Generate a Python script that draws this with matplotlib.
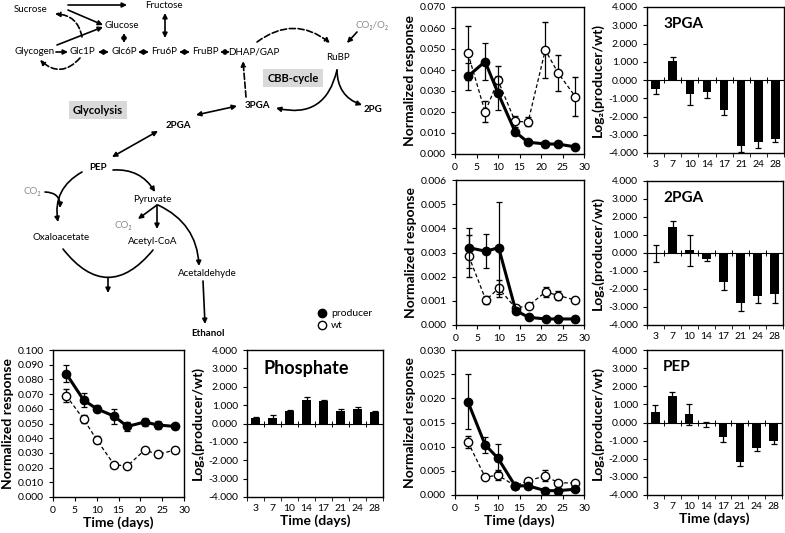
import matplotlib
matplotlib.use("Agg")
import matplotlib.pyplot as plt
from matplotlib.lines import Line2D
import numpy as np

plt.rcParams['font.family'] = ['Lato', 'DejaVu Sans']

# ---- data -------------------------------------------------------------
days = [3, 7, 10, 14, 17, 21, 24, 28]
day_labels = ["3", "7", "10", "14", "17", "21", "24", "28"]

phos_prod = [0.084, 0.066, 0.060, 0.055, 0.048, 0.051, 0.049, 0.048]
phos_prod_err = [0.0055, 0.0045, 0.0025, 0.005, 0.003, 0.003, 0.0025, 0.0015]
phos_wt = [0.069, 0.053, 0.039, 0.022, 0.021, 0.032, 0.029, 0.032]
phos_wt_err = [0.0045, 0.0025, 0.0025, 0.001, 0.001, 0.001, 0.0015, 0.002]
phos_log2 = [0.30, 0.32, 0.68, 1.28, 1.20, 0.68, 0.80, 0.62]
phos_log2_err = [0.08, 0.13, 0.06, 0.16, 0.08, 0.10, 0.10, 0.05]

pga3_prod = [0.037, 0.044, 0.029, 0.0105, 0.0056, 0.0048, 0.0047, 0.0034]
pga3_prod_err = [0.0065, 0.009, 0.008, 0.0015, 0.0008, 0.0005, 0.0005, 0.0003]
pga3_wt = [0.048, 0.020, 0.035, 0.0155, 0.0153, 0.0495, 0.0385, 0.0273]
pga3_wt_err = [0.013, 0.005, 0.007, 0.0025, 0.0022, 0.0135, 0.0085, 0.0093]
pga3_log2 = [-0.50, 1.02, -0.75, -0.68, -1.65, -3.62, -3.40, -3.25]
pga3_log2_err = [0.27, 0.25, 0.63, 0.28, 0.25, 0.30, 0.33, 0.15]

pga2_prod = [0.0032, 0.00305, 0.0032, 0.0006, 0.00032, 0.00025, 0.00025, 0.00025]
pga2_prod_err = [0.00083, 0.0007, 0.0019, 0.00005, 0.00003, 0.00002, 0.00002, 0.00002]
pga2_wt = [0.00285, 0.00103, 0.00152, 0.0007, 0.0008, 0.00137, 0.00122, 0.00103]
pga2_wt_err = [0.00088, 0.00015, 0.00035, 0.0001, 0.0001, 0.0002, 0.0002, 0.00012]
pga2_log2 = [-0.03, 1.45, 0.15, -0.32, -1.60, -2.75, -2.40, -2.25]
pga2_log2_err = [0.45, 0.32, 0.85, 0.15, 0.45, 0.48, 0.38, 0.50]

pep_prod = [0.0193, 0.0104, 0.0076, 0.0019, 0.0019, 0.0009, 0.0009, 0.0012]
pep_prod_err = [0.0057, 0.0017, 0.0029, 0.0002, 0.0003, 0.0001, 0.0001, 0.0002]
pep_wt = [0.011, 0.0037, 0.0041, 0.0019, 0.0029, 0.0040, 0.0025, 0.0025]
pep_wt_err = [0.0012, 0.0003, 0.001, 0.0002, 0.0003, 0.0011, 0.0005, 0.0003]
pep_log2 = [0.60, 1.45, 0.45, -0.10, -0.80, -2.20, -1.40, -1.00]
pep_log2_err = [0.38, 0.22, 0.58, 0.15, 0.28, 0.18, 0.15, 0.20]

W, H = 785, 533
fig = plt.figure(figsize=(W / 100, H / 100), dpi=100)


def box(l, t, r, b):
    # pixel box -> figure fraction
    return [l / W, 1 - b / H, (r - l) / W, (b - t) / H]


# ---- pathway diagram (pixel coordinates) ------------------------------
ax_d = fig.add_axes([0, 0, 1, 1])
ax_d.set_xlim(0, W)
ax_d.set_ylim(H, 0)
ax_d.axis("off")


def arrow(p0, p1, rad=0.0, style="-|>", ls="-"):
    ax_d.annotate("", xy=p1, xytext=p0,
                  arrowprops=dict(arrowstyle=style, connectionstyle=f"arc3,rad={rad}",
                                  color="black", lw=1.2, linestyle=ls,
                                  shrinkA=0, shrinkB=0, mutation_scale=7))


def label(x, y, s, bold=False, color="black", size=7):
    ax_d.text(x, y, s, ha="center", va="center", fontsize=size, color=color,
              fontweight="bold" if bold else "normal")


label(31, 9, "Sucrose")
label(164, 5, "Fructose")
label(122, 25, "Glucose")
label(35, 52, "Glycogen")
label(82, 52, "Glc1P")
label(124, 52, "Glc6P")
label(164, 52, "Fru6P")
label(205, 52, "FruBP")
label(254, 52, "DHAP/GAP")
label(338, 57, "RuBP")
label(372, 25, "CO₂/O₂", color="#8c8c8c")
label(257, 106, "3PGA", bold=True)
label(373, 110, "2PG", bold=True)
label(178, 125, "2PGA", bold=True)
label(98, 168, "PEP", bold=True)
label(32, 191, "CO₂", color="#8c8c8c")
label(152, 199, "Pyruvate")
label(123, 225, "CO₂", color="#8c8c8c")
label(61, 237, "Oxaloacetate")
label(153, 241, "Acetyl-CoA")
label(207, 274, "Acetaldehyde")
label(208, 333, "Ethanol", bold=True)
ax_d.text(293, 78, "CBB-cycle", ha="center", va="center", fontsize=8, fontweight="bold",
          bbox=dict(boxstyle="square,pad=0.35", fc="#d9d9d9", ec="none"))
ax_d.text(98, 110, "Glycolysis", ha="center", va="center", fontsize=8, fontweight="bold",
          bbox=dict(boxstyle="square,pad=0.35", fc="#d9d9d9", ec="none"))

arrow((68, 5), (127, 5))
arrow((68, 10), (103, 25))
arrow((57, 45), (103, 27))
arrow((56, 52), (68, 52))
arrow((82, 37), (55, 14), rad=0.4, ls="--")
arrow((80, 58), (40, 60), rad=-0.5, ls="--")
for a, b in [((98, 52), (109, 52)), ((138, 52), (149, 52)), ((179, 52), (190, 52)),
             ((220, 52), (230, 52)), ((124, 33), (124, 43)), ((165, 13), (165, 38))]:
    arrow(a, b, style="<|-|>")
arrow((257, 42), (330, 43), rad=-0.38, ls="--")
arrow((357, 32), (347, 43))
arrow((337, 70), (276, 108), rad=-0.5)
arrow((337, 70), (362, 105), rad=0.35)
arrow((246, 97), (243, 61), ls="--")
arrow((196, 115), (237, 106), style="<|-|>")
arrow((158, 131), (112, 157), style="<|-|>")
arrow((113, 170), (155, 192), rad=-0.3)
arrow((82, 172), (58, 222), rad=0.35)
arrow((45, 192), (60, 208), rad=-0.5)
arrow((157, 205), (138, 219))
arrow((157, 205), (157, 229))
arrow((158, 205), (199, 266), rad=-0.3)
arrow((203, 281), (205, 324))
arrow((63, 249), (153, 250), rad=0.62, style="-")
arrow((108, 278), (108, 293))

# legend
handles = [Line2D([], [], ls="none", marker="o", ms=6, mfc="black", mec="black"),
           Line2D([], [], ls="none", marker="o", ms=6, mfc="white", mec="black")]
fig.legend(handles, ["producer", "wt"], loc="upper left",
           bbox_to_anchor=(312 / W, 1 - 304 / H), frameon=False, fontsize=7.5,
           handletextpad=0.3, labelspacing=0.25, handlelength=1.0, borderpad=0)


# ---- chart helpers ----------------------------------------------------
def line_chart(rect, prod, prod_err, wt, wt_err, ymax, step, xlabel=False):
    ax = fig.add_axes(box(*rect))
    ax.errorbar(days, wt, yerr=wt_err, color="black", lw=0.9, ls=(0, (3, 2)),
                marker="o", ms=6, mfc="white", mec="black", mew=1.0,
                elinewidth=0.9, capsize=2, capthick=0.9, zorder=3)
    ax.errorbar(days, prod, yerr=prod_err, color="black", lw=2.2,
                marker="o", ms=6, mfc="black", mec="black",
                elinewidth=0.9, capsize=2, capthick=0.9, zorder=4)
    ax.set_xlim(0, 30)
    ax.set_ylim(0, ymax)
    ax.set_xticks(np.arange(0, 31, 5))
    ax.set_yticks(np.arange(0, ymax + step / 2, step))
    ax.yaxis.set_major_formatter(matplotlib.ticker.FormatStrFormatter("%.3f"))
    ax.tick_params(labelsize=7.5, length=3, width=0.8, direction="out")
    ax.set_ylabel("Normalized response", fontsize=10, fontweight="bold", labelpad=3)
    if xlabel:
        ax.set_xlabel("Time (days)", fontsize=10, fontweight="bold", labelpad=1)
    for s in ax.spines.values():
        s.set_linewidth(1.0)
    return ax


def bar_chart(rect, vals, errs, title, title_size=11, xlabel=False):
    ax = fig.add_axes(box(*rect))
    pos = np.arange(len(vals))
    ax.bar(pos, vals, width=0.5, color="black", zorder=2)
    ax.errorbar(pos, vals, yerr=errs, ls="none", color="black", elinewidth=0.9,
                capsize=2, capthick=0.9, zorder=3)
    ax.axhline(0, color="black", lw=0.8, zorder=1)
    edges = np.arange(len(vals) + 1) - 0.5
    ax.plot(edges, np.zeros(len(edges)), ls="none", marker="|", ms=4, color="black", mew=0.7)
    ax.set_xlim(-0.5, len(vals) - 0.5)
    ax.set_ylim(-4, 4)
    ax.set_yticks(np.arange(-4, 4.5, 1))
    ax.yaxis.set_major_formatter(matplotlib.ticker.FormatStrFormatter("%.3f"))
    ax.set_xticks(edges)
    ax.set_xticklabels([])
    ax.set_xticks(pos, minor=True)
    ax.set_xticklabels(day_labels, minor=True)
    ax.tick_params(axis="x", which="minor", length=0, labelsize=7.5, pad=5)
    ax.tick_params(axis="x", which="major", length=3, width=0.6)
    ax.tick_params(axis="y", labelsize=7.5, length=3, width=0.8)
    ax.set_ylabel("Log₂(producer/wt)", fontsize=10, fontweight="bold", labelpad=3)
    ax.text(0.12, 0.93, title, transform=ax.transAxes, ha="left", va="top",
            fontsize=title_size, fontweight="bold")
    if xlabel:
        ax.set_xlabel("Time (days)", fontsize=10, fontweight="bold", labelpad=1)
    for s in ax.spines.values():
        s.set_linewidth(1.0)
    return ax


line_chart((53, 350, 184, 497), phos_prod, phos_prod_err, phos_wt, phos_wt_err,
           0.1, 0.01, xlabel=True)
bar_chart((247, 350, 383, 497), phos_log2, phos_log2_err, "Phosphate", title_size=13,
          xlabel=True)

line_chart((455, 7, 584, 154), pga3_prod, pga3_prod_err, pga3_wt, pga3_wt_err, 0.07, 0.01)
bar_chart((647, 7, 784, 153), pga3_log2, pga3_log2_err, "3PGA")

line_chart((456, 180, 584, 325), pga2_prod, pga2_prod_err, pga2_wt, pga2_wt_err, 0.006, 0.001)
bar_chart((647, 181, 783, 325), pga2_log2, pga2_log2_err, "2PGA")

line_chart((455, 350, 584, 495), pep_prod, pep_prod_err, pep_wt, pep_wt_err, 0.03, 0.005,
           xlabel=True)
bar_chart((647, 350, 782, 495), pep_log2, pep_log2_err, "PEP", xlabel=True)

fig.savefig("out.png", dpi=100)
